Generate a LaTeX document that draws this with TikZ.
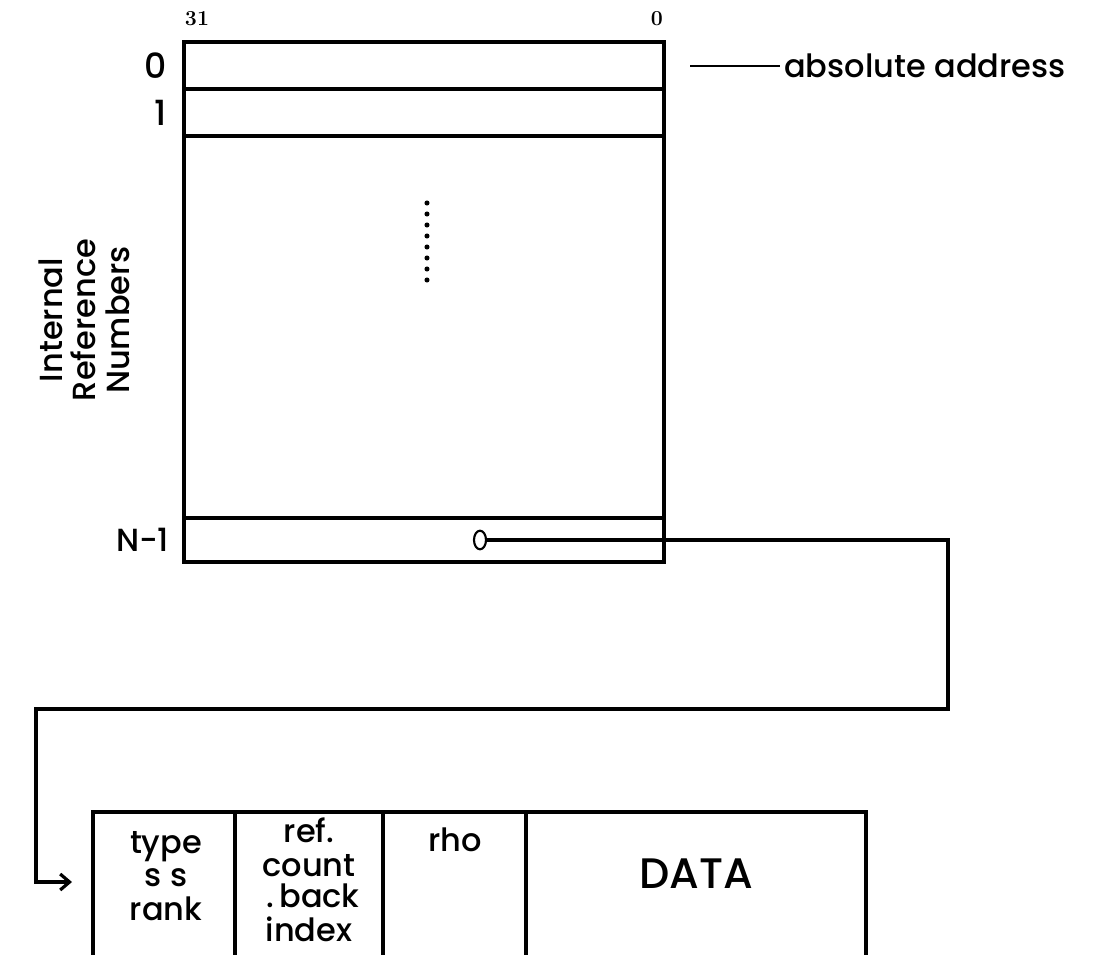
\documentclass[tikz,border=0pt]{standalone}
\usepackage{fontspec}
\setsansfont{Poppins}[UprightFont=* Medium]
\usetikzlibrary{arrows.meta,positioning,shapes.geometric}

\begin{document}
\begin{tikzpicture}[
  x=0.75pt, y=-0.75pt,
  line width=2.4pt,
  font=\sffamily\fontsize{24}{25}\selectfont,
  lbl/.style={inner sep=2pt, align=center},
  bitno/.style={inner sep=1pt, font=\rmfamily\bfseries\fontsize{16}{18}\selectfont},
  row/.style={draw, anchor=north west, inner sep=0pt, outer sep=0pt, minimum width=360pt},
  ptrmark/.style={draw, ellipse, line width=1.6pt, inner sep=0pt, minimum width=9pt, minimum height=14pt},
  link/.style={line width=2.4pt, -{Straight Barb[length=7pt,width=12pt]}}
]
\useasboundingbox (0,0) rectangle (1097,955);

% table of reference numbers
\node[row, minimum height=35.25pt] (r0) at (184,42) {};
\node[row, minimum height=35.25pt] (r1) at (r0.south west) {};
\node[row, minimum height=286.5pt] (body) at (r1.south west) {};
\node[row, minimum height=33pt] (rN) at (body.south west) {};
\foreach \i in {0,...,7} \fill (427,{203+11*\i}) circle (1.9pt);

\node[bitno] (b31) at (197,19) {31};
\node[bitno] (b0) at (657,19) {0};
\node[lbl, left=10pt of r0, font=\sffamily\fontsize{26}{27}\selectfont] (l0) {0};
\node[lbl, left=10pt of r1, font=\sffamily\fontsize{26}{27}\selectfont] (l1) {1};
\node[lbl, left=8pt of rN] (lN) {N-1};
\node[lbl, rotate=90] (irn) at (84,320) {Internal\\Reference\\Numbers};

\coordinate (absTick) at (690,66);
\node[lbl, anchor=west] (abs) at (780,66) {absolute address};
\draw[line width=1.6pt] (absTick) -- (abs.west);

% pointer to the data block
\node[ptrmark] (ptr) at (480,540) {};
\coordinate (turnR) at (948,709);
\coordinate (turnL) at (36,709);
\coordinate (entry) at (72,882);
\draw[link] (ptr.east) -| (turnR) -- (turnL) |- (entry);

% data block
\draw (93,955) |- (866,812) -- (866,955);
\foreach \x in {235,383,526} \draw (\x,812) -- (\x,955);
\node[lbl] (typ) at (166,876) {type\\s s\\rank};
\node[lbl, inner sep=0pt] (cnt) at (309,880) {ref.\\[0.5pt]count\\[-2pt]\hspace*{6pt}.\,back\\[0.5pt]index};
\node[lbl] (rho) at (455,840) {rho};
\node[lbl, font=\sffamily\fontsize{32}{34}\selectfont] (data) at (696,874) {DATA};
\end{tikzpicture}
\end{document}
